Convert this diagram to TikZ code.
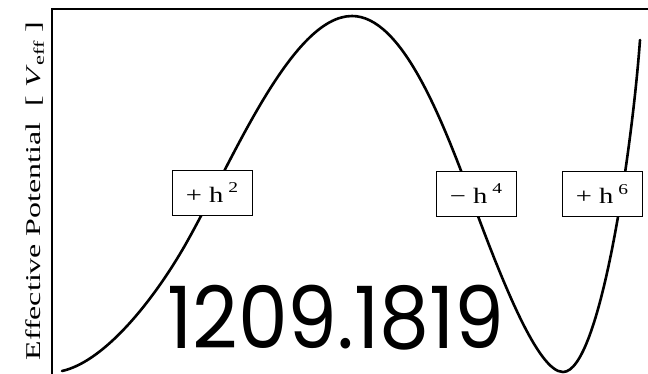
\documentclass[tikz,border=0pt]{standalone}
\usepackage{fontspec}
\setmainfont{Liberation Serif}
\newfontfamily\bigsans{Poppins}
\tikzset{
  curve/.style={line width=2.6pt, line cap=round},
  frameline/.style={line width=1.6pt},
  termbox/.style={draw, line width=1pt, fill=white, minimum width=80pt, minimum height=45pt, inner sep=0pt, font=\fontsize{22}{22}\selectfont},
}
\newcommand{\supnum}[1]{\raisebox{0.45em}{\fontsize{15}{15}\selectfont #1}}
\newcommand{\wide}[1]{\scalebox{1.3}[1]{#1}}
\begin{document}
\begin{tikzpicture}[x=1pt,y=-1pt]
\useasboundingbox (0,0) rectangle (648,373);
% frame
\coordinate (fbl) at (52,375);
\coordinate (ftl) at (52,9);
\coordinate (ftr) at (650,9);
\draw[frameline] (fbl) -- (ftl) -- (ftr);
% curve
\coordinate (c0) at (62,371);
\coordinate (i1) at (188,240);
\coordinate (pk) at (352,16);
\coordinate (i2) at (472,200);
\coordinate (mn) at (563,372);
\coordinate (c5) at (640,40);
\draw[curve] (c0) .. controls (107,361) and (158,294) .. (i1)
  .. controls (233,159.5) and (292,16) .. (pk)
  .. controls (402,16) and (442,119) .. (i2)
  .. controls (502,281) and (538,372) .. (mn)
  .. controls (600,372) and (632,150) .. (c5);
% boxes
\node[termbox] (b1) at (212,192.5) {\wide{+ h\,\supnum{2}}};
\node[termbox] (b2) at (476,194) {\wide{− h\,\supnum{4}}};
\node[termbox] (b3) at (602,194) {\wide{+ h\,\supnum{6}}};
% big number
\node[anchor=base west, inner sep=0pt, text depth=0pt, font=\bigsans\fontsize{86}{86}\selectfont] (num) at (167,348) {\scalebox{0.92}[1]{1209.1819}};
% axis label
\node[rotate=90, font=\fontsize{21}{21}\selectfont, inner sep=0pt] (ylab) at (35,191) {\scalebox{1.52}[1]{Effective Potential~ [ \textit{V}\textsubscript{eff} ]}};
\end{tikzpicture}
\end{document}
